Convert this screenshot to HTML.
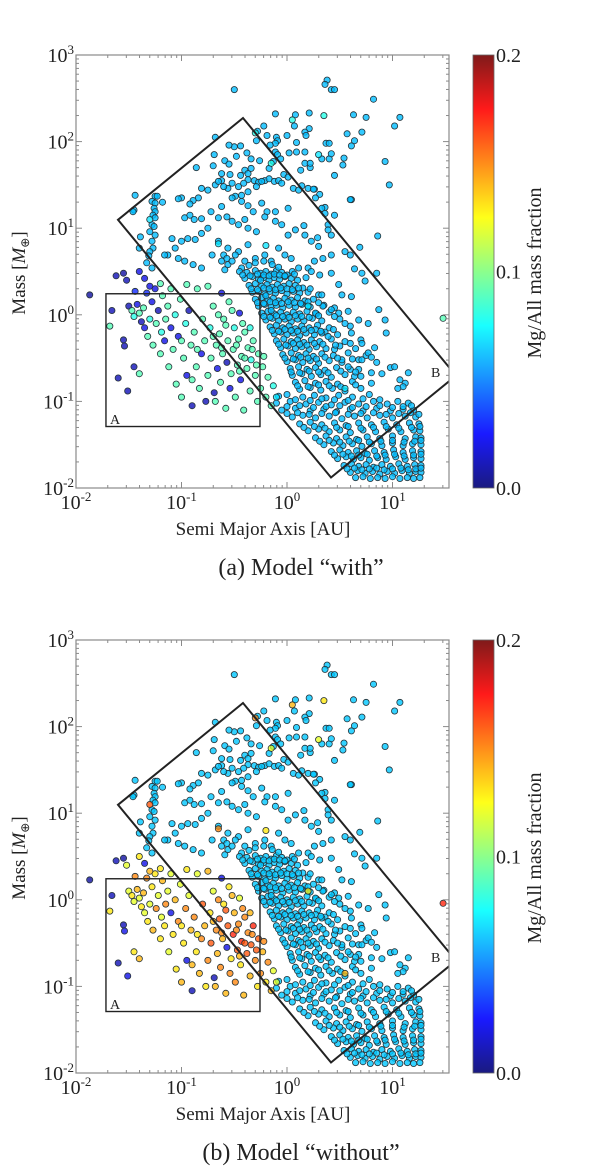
<!DOCTYPE html>
<html><head><meta charset="utf-8"><style>
html,body{margin:0;padding:0;background:#fff}
svg{display:block}
text{font-family:"Liberation Serif",serif;fill:#222}
</style></head><body>
<svg id="fig" width="600" height="1167" viewBox="0 0 600 1167" xmlns="http://www.w3.org/2000/svg">
<defs>
<linearGradient id="jet" x1="0" y1="1" x2="0" y2="0">
<stop offset="0" stop-color="#1a1a80"/><stop offset="0.125" stop-color="#1a1aff"/>
<stop offset="0.375" stop-color="#1affff"/><stop offset="0.625" stop-color="#ffff1a"/>
<stop offset="0.875" stop-color="#ff1a1a"/><stop offset="1" stop-color="#801a1a"/>
</linearGradient>
<clipPath id="plotclip"><rect x="76" y="55" width="373" height="433"/></clipPath>
</defs>
</svg>
<script>
// ---- data (log10 semi-major axis [AU], log10 mass [M_earth]) ----
const xTickExps = [-2, -1, 0, 1];
const yTickExps = [-2, -1, 0, 1, 2, 3];
const cbarTicks = [0.0, 0.1, 0.2];
const fracMainWith = 0.062;
const fracMainWithout = 0.064;
const mainPoints = [
[-0.50,2.60],[0.38,2.71],[0.36,2.66],[0.42,2.60],[0.45,2.60],[0.82,2.49],[1.07,2.28],[1.02,2.18],[0.93,1.77],[0.97,1.50],[0.86,0.91],
[0.63,2.31],[0.75,2.28],[0.71,2.11],[0.57,2.09],[0.61,1.95],[0.64,2.01],[0.53,1.73],[0.54,1.81],[0.45,1.61],[0.61,1.33],[0.69,0.78],
[0.33,1.80],[0.40,1.80],[0.42,1.86],[0.37,1.98],[0.40,1.98],[0.26,1.45],[0.31,1.39],[0.36,1.24],[0.39,1.04],[0.42,0.92],[0.55,0.73],[0.60,0.69],
[-0.11,2.32],[0.08,2.31],[0.21,2.33],[0.07,2.18],[0.21,2.15],[0.17,2.11],[0.18,2.07],[0.00,2.07],[-0.10,2.05],[-0.09,2.01],[-0.11,1.98],[-0.16,1.96],
[-0.22,2.18],[-0.28,2.12],[-0.19,2.07],[-0.29,2.01],[-0.11,1.88],[-0.09,1.85],[-0.06,1.80],[0.02,1.87],[0.09,1.88],[0.17,1.88],[0.09,1.99],[0.17,1.75],
[0.22,1.70],[0.13,1.67],[0.22,1.75],[-0.13,1.77],[-0.17,1.69],[-0.26,1.78],[-0.34,1.80],[-0.38,1.87],[-0.48,1.83],[-0.50,1.94],[-0.55,1.96],[-0.44,1.95],
[-0.68,2.05],[-0.69,1.85],[-0.59,1.78],[-0.55,1.74],[-0.40,1.67],[-0.37,1.63],[-0.34,1.69],[-0.86,1.70],[-0.70,1.72],[-0.62,1.63],[-0.54,1.62],[-0.44,1.61],
[-0.37,1.56],[-0.31,1.55],[-0.27,1.53],[-0.21,1.55],[-0.17,1.57],[-0.12,1.54],[-0.08,1.55],[-0.05,1.52],[-0.03,1.62],[0.01,1.59],[0.06,1.46],[0.11,1.44],
[0.14,1.49],[0.20,1.46],[0.25,1.45],[0.27,1.35],[0.33,1.23],[0.36,1.17],[0.45,1.15],[0.60,1.33],[0.39,0.98],[0.29,0.89],[0.16,1.03],[0.01,1.23],
[-0.11,1.19],[-0.19,1.19],[-0.24,1.29],[-0.32,1.19],[-0.37,1.26],[-0.43,1.31],[-0.49,1.37],[-0.56,1.46],[-0.62,1.55],[-0.68,1.50],[-0.75,1.44],[-0.81,1.46],
[-0.84,1.35],[-0.89,1.32],[-1.00,1.35],[-1.03,1.34],[-0.92,1.28],[-0.97,1.12],[-0.92,1.15],[-0.88,1.10],[-0.81,1.11],[-0.72,1.19],[-0.62,1.25],[-0.65,1.12],
[-0.57,1.13],[-0.52,1.08],[-0.46,1.04],[-0.40,1.10],[-0.37,1.00],[-0.29,0.96],[-0.21,1.13],[-0.11,1.08],[-0.05,1.04],[0.01,0.92],[0.08,0.98],[0.17,0.92],
[0.23,0.85],[0.30,0.79],[0.34,0.65],[0.42,0.69],[0.64,0.53],[0.71,0.48],[-0.75,1.00],[-0.81,0.94],[-0.87,0.87],[-0.94,0.88],[-1.00,0.85],[-1.06,0.77],
[-1.13,0.69],[-1.09,0.88],[-1.16,0.69],[-1.03,0.65],[-0.97,0.62],[-0.89,0.58],[-0.81,0.54],[-0.71,0.69],[-0.65,0.85],[-0.56,0.77],[-0.46,0.73],[-0.37,0.81],
[-0.30,0.65],[-0.21,0.69],[-0.15,0.62],[-0.08,0.77],[-0.02,0.69],[0.04,0.65],[0.11,0.54],[0.20,0.54],[0.26,0.62],[-1.44,1.38],[-1.45,1.21],[-1.46,1.19],
[-1.25,1.37],[-1.23,1.37],[-1.28,1.31],[-1.25,1.29],[-1.26,1.23],[-1.25,1.19],[-1.27,1.15],[-1.25,1.12],[-1.28,1.04],[-1.26,1.02],[-1.30,0.96],[-1.25,0.92],
[-1.28,0.85],[-1.27,0.77],[-1.30,0.73],[-1.31,0.68],[-1.33,0.60],[-1.39,0.90],[-1.40,0.77],[-1.28,0.54],[-0.62,0.62],[-0.56,0.58],[-0.49,0.69],[-0.43,0.54],
[-0.59,0.52],[-0.60,0.69],[-0.57,0.65],[-0.52,0.62],[-1.18,1.30],[-0.65,1.54],[-0.60,1.48],[-0.52,1.52],[-0.46,1.48],[-0.41,1.52],[-0.37,1.42],[-0.29,1.48],
[-0.24,1.54],[-0.43,1.38],[-0.52,1.35],
[-0.45,0.50],[-0.38,0.49],[-0.30,0.51],[-0.25,0.48],[-0.20,0.50],[-0.15,0.47],[-0.10,0.51],[-0.05,0.49],[0.00,0.46],[0.05,0.50],
[-0.40,0.42],[-0.33,0.44],[-0.27,0.41],[-0.22,0.43],[-0.17,0.40],[-0.12,0.43],[-0.07,0.41],[-0.02,0.44],[0.04,0.42],[0.10,0.40],[0.18,0.43],
[-0.36,0.34],[-0.30,0.36],[-0.24,0.33],[-0.19,0.35],[-0.14,0.32],[-0.09,0.35],[-0.03,0.33],[0.02,0.36],[0.08,0.34],[0.15,0.31],
[-0.33,0.26],[-0.27,0.27],[-0.21,0.24],[-0.16,0.27],[-0.11,0.25],[-0.05,0.28],[0.00,0.24],[0.06,0.27],[0.12,0.25],[0.20,0.26],[0.30,0.23],
[-0.30,0.18],[-0.24,0.20],[-0.18,0.17],[-0.13,0.19],[-0.08,0.16],[-0.02,0.19],[0.04,0.17],[0.10,0.20],[0.17,0.16],[0.25,0.18],
[-0.27,0.10],[-0.21,0.12],[-0.15,0.09],[-0.10,0.11],[-0.04,0.08],[0.02,0.11],[0.08,0.09],[0.14,0.12],[0.22,0.09],[0.35,0.11],[0.45,0.08],
[-0.24,0.02],[-0.18,0.04],[-0.12,0.01],[-0.06,0.03],[0.00,0.00],[0.06,0.03],[0.12,0.01],[0.19,0.04],[0.28,0.01],[0.40,0.03],
[-0.20,-0.06],[-0.14,-0.04],[-0.08,-0.07],[-0.02,-0.05],[0.04,-0.08],[0.10,-0.05],[0.16,-0.07],[0.24,-0.04],[0.33,-0.07],[0.50,-0.05],
[-0.16,-0.14],[-0.10,-0.12],[-0.04,-0.15],[0.02,-0.13],[0.08,-0.16],[0.14,-0.13],[0.21,-0.15],[0.29,-0.12],[0.40,-0.15],[0.60,-0.13],
[-0.12,-0.22],[-0.06,-0.20],[0.00,-0.23],[0.06,-0.21],[0.12,-0.24],[0.18,-0.21],[0.26,-0.23],[0.36,-0.20],[0.48,-0.23],
[-0.10,-0.30],[-0.03,-0.28],[0.04,-0.31],[0.10,-0.29],[0.16,-0.32],[0.23,-0.29],[0.31,-0.31],[0.42,-0.28],[0.55,-0.31],[0.70,-0.29],
[-0.06,-0.38],[0.01,-0.36],[0.08,-0.39],[0.14,-0.37],[0.21,-0.40],[0.28,-0.37],[0.37,-0.39],[0.50,-0.36],[0.65,-0.39],
[-0.04,-0.46],[0.04,-0.44],[0.11,-0.47],[0.18,-0.45],[0.25,-0.48],[0.33,-0.45],[0.44,-0.47],[0.58,-0.44],[0.75,-0.47],
[0.00,-0.54],[0.08,-0.52],[0.15,-0.55],[0.22,-0.53],[0.30,-0.56],[0.40,-0.53],[0.52,-0.55],[0.68,-0.52],[0.85,-0.55],
[0.03,-0.62],[0.11,-0.60],[0.19,-0.63],[0.27,-0.61],[0.36,-0.64],[0.47,-0.61],[0.60,-0.63],
[0.05,-0.70],[0.14,-0.68],[0.23,-0.71],[0.32,-0.69],[0.42,-0.72],[0.55,-0.69],[0.70,-0.71],[0.90,-0.68],
[0.08,-0.78],[0.17,-0.76],[0.27,-0.79],[0.37,-0.77],[0.48,-0.80],[0.62,-0.77],[0.80,-0.79],
[0.12,-0.86],[0.22,-0.84],[0.32,-0.87],[0.43,-0.85],[0.55,-0.88],[0.70,-0.85],
[-0.08,-0.94],[0.00,-0.92],[0.15,-0.95],[0.26,-0.93],[0.37,-0.96],[0.49,-0.93],[0.62,-0.95],[0.78,-0.92],
[-0.10,-1.02],[0.03,-1.00],[0.18,-1.03],[0.30,-1.01],[0.42,-1.04],[0.55,-1.01],[0.68,-1.03],[0.82,-1.00],[0.95,-1.03],[1.05,-1.00],[1.15,-1.02],
[-0.05,-1.10],[0.08,-1.08],[0.22,-1.11],[0.35,-1.09],[0.47,-1.12],[0.60,-1.09],[0.72,-1.11],[0.85,-1.08],[0.98,-1.11],[1.10,-1.09],[1.20,-1.10],
[0.05,-1.18],[0.15,-1.16],[0.27,-1.19],[0.40,-1.17],[0.52,-1.20],[0.64,-1.17],[0.76,-1.19],[0.88,-1.16],[1.00,-1.19],[1.12,-1.17],[1.22,-1.18],
[0.12,-1.26],[0.22,-1.24],[0.33,-1.27],[0.45,-1.25],[0.56,-1.28],[0.68,-1.25],[0.80,-1.27],[0.92,-1.24],[1.04,-1.27],[1.16,-1.25],[1.25,-1.26],
[0.20,-1.34],[0.30,-1.32],[0.40,-1.35],[0.50,-1.33],[0.60,-1.36],[0.72,-1.33],[0.84,-1.35],[0.96,-1.32],[1.08,-1.35],[1.20,-1.33],[1.26,-1.34],
[0.27,-1.42],[0.37,-1.40],[0.47,-1.43],[0.56,-1.41],[0.66,-1.44],[0.76,-1.41],[0.88,-1.43],[1.00,-1.40],[1.12,-1.43],[1.22,-1.41],[1.27,-1.42],
[0.35,-1.50],[0.44,-1.48],[0.53,-1.51],[0.62,-1.49],[0.71,-1.52],[0.80,-1.49],[0.90,-1.51],[1.00,-1.48],[1.10,-1.51],[1.19,-1.49],[1.27,-1.50],
[0.42,-1.58],[0.50,-1.56],[0.58,-1.59],[0.66,-1.57],[0.74,-1.60],[0.83,-1.57],[0.92,-1.59],[1.01,-1.56],[1.10,-1.59],[1.19,-1.57],[1.27,-1.58],
[0.48,-1.66],[0.56,-1.64],[0.63,-1.67],[0.70,-1.65],[0.78,-1.68],[0.86,-1.65],[0.94,-1.67],[1.03,-1.64],[1.12,-1.67],[1.20,-1.65],[1.27,-1.66],
[0.54,-1.74],[0.61,-1.72],[0.68,-1.75],[0.75,-1.73],[0.82,-1.76],[0.90,-1.73],[0.98,-1.75],[1.06,-1.72],[1.14,-1.75],[1.21,-1.73],[1.27,-1.74],
[0.60,-1.82],[0.67,-1.80],[0.74,-1.83],[0.81,-1.81],[0.88,-1.84],[0.95,-1.81],[1.02,-1.83],[1.09,-1.80],[1.16,-1.83],[1.22,-1.81],[1.27,-1.82],
[0.65,-1.88],[0.72,-1.87],[0.79,-1.89],[0.86,-1.88],[0.93,-1.89],[1.00,-1.87],[1.07,-1.89],[1.14,-1.88],[1.20,-1.89],[1.26,-1.88],
[0.23,0.50],[0.31,0.46],[0.42,0.48],[0.49,0.35],[0.61,0.21],[0.52,0.23],[0.74,0.39],[0.85,0.48],[0.77,-0.10],[0.93,-0.06],[0.94,-0.21],[0.87,0.06],
[0.98,-0.61],[1.02,-0.60],[1.07,-0.75],[1.12,-0.79],[1.10,-0.83],[1.05,-0.85],[0.77,-0.44],[0.71,-0.52],[0.68,-0.63],[0.58,-0.60],[0.64,-0.71],[0.52,-0.52],
[0.45,-0.40],[0.39,-0.25],[0.33,-0.21],[0.27,-0.17],[0.61,-0.21],[0.55,-0.10],[0.49,0.02],[0.42,0.06],[0.34,0.10],[0.27,0.02],[0.20,0.10],[0.33,0.23],
[0.58,0.04],[0.68,-0.06],[0.71,-0.33],[0.83,-0.38],[1.15,-0.67]
];
// extra points filling the dense diagonal band and the low-mass clump
const denseBand = [
[0.00,-1.14],[0.10,-1.13],[0.21,-1.15],[0.33,-1.14],[0.46,-1.13],[0.58,-1.15],[0.70,-1.14],[0.82,-1.13],[0.94,-1.15],[1.06,-1.14],[1.17,-1.13],[1.25,-1.15],
[0.16,-1.30],[0.26,-1.29],[0.36,-1.31],[0.47,-1.30],[0.58,-1.29],[0.70,-1.31],[0.82,-1.30],[0.94,-1.29],[1.06,-1.31],[1.18,-1.30],[1.26,-1.29],
[0.31,-1.46],[0.40,-1.45],[0.50,-1.47],[0.59,-1.46],[0.68,-1.45],[0.78,-1.47],[0.89,-1.46],[1.00,-1.45],[1.11,-1.47],[1.21,-1.46],[1.27,-1.45],
[0.45,-1.62],[0.53,-1.61],[0.61,-1.63],[0.68,-1.62],[0.76,-1.61],[0.85,-1.63],[0.93,-1.62],[1.02,-1.61],[1.11,-1.63],[1.20,-1.62],[1.27,-1.61],
[0.57,-1.78],[0.64,-1.77],[0.71,-1.79],[0.78,-1.78],[0.85,-1.77],[0.92,-1.79],[1.00,-1.78],[1.08,-1.77],[1.15,-1.79],[1.22,-1.78],[1.27,-1.77],
[0.00,-1.06],[0.12,-1.05],[0.25,-1.07],[0.37,-1.06],[0.50,-1.05],[0.62,-1.07],[0.75,-1.06],[0.88,-1.05],[1.00,-1.07],[1.10,-1.06],[1.18,-1.05],
[-0.42,0.46],[-0.35,0.45],[-0.28,0.47],[-0.22,0.46],[-0.17,0.45],[-0.12,0.47],[-0.07,0.46],[-0.02,0.45],[0.07,0.47],
[-0.34,0.30],[-0.28,0.29],[-0.22,0.31],[-0.17,0.30],[-0.11,0.29],[-0.06,0.31],[0.00,0.30],[0.05,0.29],[0.11,0.31],[0.22,0.30],
[-0.28,0.14],[-0.22,0.13],[-0.16,0.15],[-0.11,0.14],[-0.05,0.13],[0.01,0.15],[0.07,0.14],[0.13,0.13],[0.20,0.15],[0.30,0.14],
[-0.22,-0.02],[-0.16,-0.03],[-0.10,-0.01],[-0.04,-0.02],[0.02,-0.03],[0.08,-0.01],[0.14,-0.02],[0.21,-0.03],[0.30,-0.01],[0.45,-0.02],
[-0.14,-0.18],[-0.08,-0.19],[-0.02,-0.17],[0.04,-0.18],[0.10,-0.19],[0.16,-0.17],[0.23,-0.18],[0.32,-0.19],[0.44,-0.17],
[-0.08,-0.34],[-0.01,-0.35],[0.06,-0.33],[0.12,-0.34],[0.19,-0.35],[0.26,-0.33],[0.34,-0.34],[0.46,-0.35],[0.60,-0.33],
[-0.02,-0.50],[0.06,-0.51],[0.13,-0.49],[0.20,-0.50],[0.28,-0.51],[0.36,-0.49],[0.48,-0.50],[0.62,-0.51],[0.80,-0.49],
[0.04,-0.66],[0.12,-0.67],[0.21,-0.65],[0.30,-0.66],[0.39,-0.67],[0.51,-0.65],[0.65,-0.66],[0.80,-0.67],
[0.10,-0.82],[0.20,-0.83],[0.30,-0.81],[0.40,-0.82],[0.51,-0.83],[0.65,-0.81],
[0.08,-0.98],[0.22,-0.99],[0.33,-0.97],[0.45,-0.98],[0.58,-0.99],[0.72,-0.97],[0.88,-0.98],
[-0.25,0.40],[-0.20,0.22],[-0.15,0.05],[-0.30,0.60],[-0.22,0.62],[-0.14,0.58],[-0.08,0.55],[-0.36,0.57],[-0.40,0.62]
];
// [log a, log m, fraction "with", fraction "without"]
const innerPoints = [
[-1.87,0.23,0.005,0.005],[-1.55,0.48,0.005,0.005],[1.48,-0.04,0.09,0.17],
[-1.68,-0.13,0.09,0.13],[-1.66,0.05,0.01,0.01],[-1.55,-0.29,0.01,0.01],[-1.54,-0.36,0.01,0.02],[-1.60,-0.73,0.01,0.01],[-1.51,-0.88,0.01,0.02],
[-1.45,-0.60,0.01,0.13],[-1.40,-0.68,0.09,0.14],[-1.50,0.10,0.01,0.12],[-1.47,0.05,0.09,0.13],[-1.45,-0.02,0.08,0.12],[-1.42,0.12,0.02,0.14],
[-1.40,0.02,0.09,0.12],[-1.38,-0.08,0.01,0.13],[-1.36,0.08,0.09,0.14],[-1.35,-0.15,0.02,0.12],[-1.33,0.25,0.03,0.15],[-1.32,-0.25,0.09,0.13],
[-1.30,-0.05,0.08,0.12],[-1.28,0.15,0.02,0.13],[-1.27,-0.35,0.09,0.14],[-1.25,0.30,0.02,0.13],[-1.24,-0.10,0.09,0.15],[-1.22,0.05,0.01,0.12],
[-1.20,-0.45,0.09,0.13],[-1.19,-0.20,0.08,0.12],[-1.18,0.22,0.09,0.14],[-1.16,-0.30,0.02,0.13],[-1.15,-0.05,0.09,0.15],[-1.13,0.10,0.09,0.12],
[-1.12,-0.60,0.09,0.12],[-1.10,-0.15,0.02,0.02],[-1.08,-0.40,0.09,0.13],[-1.06,0.00,0.08,0.14],[-1.05,-0.80,0.09,0.13],[-1.03,-0.25,0.02,0.15],
[-1.01,0.18,0.09,0.12],[-1.00,-0.95,0.09,0.14],[-0.98,-0.50,0.09,0.13],[-0.96,-0.10,0.08,0.15],[-0.95,-0.70,0.02,0.02],[-0.93,0.05,0.01,0.12],
[-0.91,-0.35,0.09,0.14],[-0.90,-1.05,0.01,0.01],[-0.88,-0.20,0.09,0.15],[-0.86,-0.60,0.09,0.13],[-0.85,0.30,0.09,0.12],[-0.83,-0.85,0.09,0.14],
[-0.81,-0.45,0.02,0.15],[-0.80,-0.05,0.09,0.16],[-0.78,-0.30,0.09,0.14],[-0.77,-1.00,0.01,0.13],[-0.75,-0.70,0.09,0.15],[-0.73,-0.15,0.08,0.13],
[-0.72,-0.50,0.09,0.16],[-0.70,0.10,0.09,0.12],[-0.69,-0.90,0.01,0.01],[-0.67,-0.35,0.09,0.15],[-0.66,-0.62,0.02,0.14],[-0.64,-0.22,0.09,0.16],
[-0.63,-0.78,0.09,0.15],[-0.61,-0.45,0.09,0.14],[-0.60,-0.05,0.09,0.13],[-0.58,-1.08,0.09,0.14],[-0.57,-0.55,0.01,0.02],[-0.56,-0.30,0.09,0.16],
[-0.54,-0.85,0.02,0.15],[-0.53,-0.68,0.09,0.13],[-0.51,-0.40,0.09,0.17],[-0.50,-0.15,0.08,0.14],[-0.49,-0.95,0.09,0.15],[-0.47,-0.58,0.09,0.16],
[-0.46,-0.28,0.09,0.15],[-0.44,-0.75,0.02,0.13],[-0.43,-0.48,0.09,0.17],[-0.41,-1.10,0.09,0.14],[-0.40,-0.20,0.09,0.15],[-0.38,-0.62,0.09,0.16],
[-0.37,-0.38,0.09,0.15],[-0.35,-0.88,0.09,0.14],[-0.34,-0.52,0.08,0.16],[-0.32,-0.30,0.09,0.17],[-0.30,-0.70,0.09,0.15],[-0.28,-1.00,0.09,0.13],
[-0.27,-0.45,0.09,0.16],[-0.25,-0.85,0.09,0.15],[-0.23,-0.60,0.09,0.14],[-0.20,-0.95,0.09,0.13],[-0.18,-0.72,0.09,0.15],[-0.15,-1.05,0.09,0.14],
[-0.13,-0.82,0.08,0.12],[-1.44,0.27,0.03,0.15],[-1.30,0.33,0.02,0.14],[-1.20,0.36,0.09,0.13],[-1.10,0.30,0.09,0.12],[-0.95,0.35,0.09,0.13],
[-0.75,0.33,0.09,0.14],[-0.62,0.25,0.02,0.02],[-0.55,0.15,0.09,0.13],[-0.52,0.05,0.09,0.14],[-0.45,0.02,0.02,0.12],[-0.42,-0.10,0.09,0.15],
[-0.65,0.00,0.09,0.15],[-0.58,-0.12,0.09,0.16],[-0.35,-0.15,0.08,0.14],[-1.52,0.40,0.01,0.12],[-1.35,0.42,0.02,0.02],[-1.62,0.45,0.01,0.01],
[-1.40,0.50,0.02,0.13],
[-0.48,-0.35,0.09,0.15],[-0.40,-0.50,0.09,0.16],[-0.33,-0.40,0.09,0.15],[-0.29,-0.58,0.09,0.16],[-0.22,-0.48,0.09,0.15],[-0.45,-0.65,0.09,0.14],
[-0.62,-0.38,0.09,0.15],[-0.70,-0.25,0.09,0.14],[-0.85,-0.40,0.09,0.13],[-1.00,-0.30,0.09,0.13],[-0.90,-0.75,0.09,0.14],[-0.68,-1.00,0.09,0.14],
[-0.30,2.10,0.08,0.15],[-0.15,1.75,0.08,0.12],[0.05,2.25,0.08,0.14],[0.35,2.30,0.08,0.13],[-0.65,0.82,0.07,0.15],[-0.20,0.80,0.07,0.13],
[0.30,1.85,0.07,0.12],[-1.30,1.10,0.07,0.16],[0.20,0.10,0.07,0.13],[0.55,-0.85,0.07,0.14],[-0.10,-0.95,0.07,0.12]
];
const boxALog = [[-1.716, 0.243], [-0.256, -1.29]];
const boxBLog = [[-1.602,1.097],[-0.417,2.273],[1.602,-0.702],[0.417,-1.879]];

// ---- axis functions ----
const X0=76, X1=449, Y0=55, Y1=488;
const xMin=-2, xDec=105.5, yMax=3, yDec=86.6;
function xPx(l){return X0+(l-xMin)*xDec;}
function yPx(l){return Y0+(yMax-l)*yDec;}
function cbY(v){return Y1-(v/0.2)*(Y1-Y0);}
function jet(f){const v=Math.max(0,Math.min(1,f/0.2));
 const c=t=>Math.round(255*Math.max(0,Math.min(1,1.5-Math.abs(t))));
 return `rgb(${c(4*v-3)},${c(4*v-2)},${c(4*v-1)})`;}

const NS='http://www.w3.org/2000/svg';
const svg=document.getElementById('fig');
function el(tag,attrs,parent){const e=document.createElementNS(NS,tag);for(const k in attrs)e.setAttribute(k,attrs[k]);(parent||svg).appendChild(e);return e;}

function pow10Label(parent,x,y,exp,anchor){
 const t=el('text',{x:x,y:y,'font-size':20,'text-anchor':anchor},parent);
 t.appendChild(document.createTextNode('10'));
 const s=el('tspan',{dy:-8,'font-size':13},t);s.textContent=String(exp);
 return t;}

function drawPanel(offset,which,caption){
 const g=el('g',{transform:`translate(0,${offset})`});
 
 
 const pts=el('g',{'clip-path':'url(#plotclip)'},g);
 
 
 const mainFrac = which===0?fracMainWith:fracMainWithout;
 for(const p of mainPoints.concat(denseBand)){
  const c=el('circle',{cx:xPx(p[0]).toFixed(1),cy:yPx(p[1]).toFixed(1),r:3.1,fill:jet(mainFrac),stroke:'#253238','stroke-width':0.8,'fill-opacity':0.8},pts);
  
  
 }
 for(const p of innerPoints){
  const c=el('circle',{cx:xPx(p[0]).toFixed(1),cy:yPx(p[1]).toFixed(1),r:3.1,fill:jet(which===0?p[2]:p[3]),stroke:'#253238','stroke-width':0.8,'fill-opacity':0.75},pts);
  
  
 }
 const ba=el('rect',{x:xPx(boxALog[0][0]),y:yPx(boxALog[0][1]),width:xPx(boxALog[1][0])-xPx(boxALog[0][0]),height:yPx(boxALog[1][1])-yPx(boxALog[0][1]),fill:'none',stroke:'#222','stroke-width':1.4},g);
 
 
 const bb=el('polygon',{points:boxBLog.map(p=>xPx(p[0]).toFixed(1)+','+yPx(p[1]).toFixed(1)).join(' '),fill:'none',stroke:'#222','stroke-width':2,'clip-path':'url(#plotclip)'},g);
 
 
 const la=el('text',{x:110,y:424,'font-size':14},g);la.textContent='A';
 
 
 const lb=el('text',{x:431,y:377,'font-size':14},g);lb.textContent='B';
 
 
 const fr=el('rect',{x:X0,y:Y0,width:X1-X0,height:Y1-Y0,fill:'none',stroke:'#8a8a8a','stroke-width':1.2},g);
 
 
 const tk=el('g',{stroke:'#8a8a8a','stroke-width':1},g);
 
 
 for(let d=-2; d<=1; d++){for(let m=1;m<=9;m++){const x=xPx(d+Math.log10(m));if(x>X1)continue;const L=m===1?6:3;
  el('line',{x1:x,y1:Y1,x2:x,y2:Y1-L},tk);el('line',{x1:x,y1:Y0,x2:x,y2:Y0+L},tk);}}
 for(let d=-2; d<=2; d++){for(let m=1;m<=9;m++){const y=yPx(d+Math.log10(m));const L=m===1?6:3;
  el('line',{x1:X0,y1:y,x2:X0+L,y2:y},tk);el('line',{x1:X1,y1:y,x2:X1-L,y2:y},tk);}}
 for(const e of xTickExps){const t=pow10Label(g,xPx(e),Y1+21,e,'middle');
  
  }
 for(const e of yTickExps){const t=pow10Label(g,X0-2,yPx(e)+7,e,'end');
  
  }
 const xl=el('text',{x:263,y:535,'font-size':19,'text-anchor':'middle'},g);xl.textContent='Semi Major Axis [AU]';
 
 
 const yl=el('text',{x:0,y:0,'font-size':19,'text-anchor':'middle',transform:'translate(25,273) rotate(-90)'},g);
 yl.appendChild(document.createTextNode('Mass ['));
 const yi=el('tspan',{'font-style':'italic'},yl);yi.textContent='M';
 const ys=el('tspan',{'font-size':12,dy:4},yl);ys.textContent='⊕';
 const ye=el('tspan',{dy:-4},yl);ye.textContent=']';
 
 
 const cb=el('rect',{x:473,y:Y0,width:21,height:Y1-Y0,fill:'url(#jet)',stroke:'#666','stroke-width':0.8},g);
 
 
 for(const v of cbarTicks){const t=el('text',{x:496,y:cbY(v)+7,'font-size':20},g);t.textContent=v.toFixed(1);
  
  }
 const cl=el('text',{x:0,y:0,'font-size':20,'text-anchor':'middle',transform:'translate(541,273) rotate(-90)'},g);cl.textContent='Mg/All mass fraction';
 
 
 const cap=el('text',{x:301,y:575,'font-size':24,'text-anchor':'middle'},g);cap.textContent=caption;
 
 
}
drawPanel(0,0,'(a) Model \u201cwith\u201d');
drawPanel(585,1,'(b) Model \u201cwithout\u201d');
</script>
</body></html>
